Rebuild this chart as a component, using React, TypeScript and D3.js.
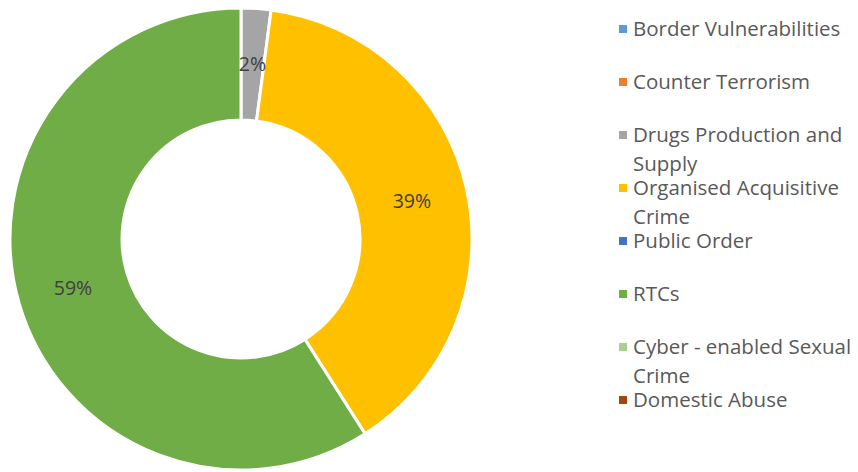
import { useEffect, useRef } from "react";
import * as d3 from "d3";

// Categories and values (share of incidents)
const categories = [
  "Border Vulnerabilities",
  "Counter Terrorism",
  "Drugs Production and Supply",
  "Organised Acquisitive Crime",
  "Public Order",
  "RTCs",
  "Cyber - enabled Sexual Crime",
  "Domestic Abuse",
];
const values = [0, 0, 3, 56, 0, 85, 0, 0];
const colors = [
  "#5b9bd5",
  "#ed7d31",
  "#a5a5a5",
  "#ffc000",
  "#4472c4",
  "#70ad47",
  "#a9d18e",
  "#9e480e",
];
// legend text lines as wrapped in the original
const legendLines = [
  ["Border Vulnerabilities"],
  ["Counter Terrorism"],
  ["Drugs Production and", "Supply"],
  ["Organised Acquisitive", "Crime"],
  ["Public Order"],
  ["RTCs"],
  ["Cyber - enabled Sexual", "Crime"],
  ["Domestic Abuse"],
];

export default function App() {
  const ref = useRef<SVGSVGElement>(null);

  useEffect(() => {
    if (!ref.current) return;
    const svg = d3.select(ref.current);
    svg.selectAll("*").remove();

    const cx = 241;
    const cy = 239;
    const outer = 231;
    const inner = 119;
    const font = "'Open Sans', sans-serif";

    const data = categories.map((c, i) => ({ name: c, value: values[i], color: colors[i] }));
    const total = d3.sum(values);

    const pie = d3
      .pie<any>()
      .value((d) => d.value)
      .sort(null);
    const arc = d3.arc<any>().innerRadius(inner).outerRadius(outer);

    const g = svg.append("g").attr("transform", `translate(${cx},${cy})`);
    const arcs = pie(data).filter((d) => d.data.value > 0);

    g.selectAll("path")
      .data(arcs)
      .enter()
      .append("path")
      .attr("d", arc)
      .attr("fill", (d) => d.data.color)
      .attr("stroke", "#fff")
      .attr("stroke-width", 3);

    g.selectAll("text")
      .data(arcs)
      .enter()
      .append("text")
      .attr("transform", (d) => `translate(${arc.centroid(d)})`)
      .attr("dy", "0.35em")
      .attr("text-anchor", "middle")
      .attr("font-family", font)
      .attr("font-size", 19.5)
      .attr("fill", "#404040")
      .text((d) => `${Math.round((d.data.value / total) * 100)}%`);

    // Legend
    const lx = 619;
    const ly = 29;
    const step = 53;
    const lg = svg.append("g");
    data.forEach((d, i) => {
      const y = ly + i * step;
      lg.append("rect")
        .attr("x", lx)
        .attr("y", y - 4)
        .attr("width", 8)
        .attr("height", 8)
        .attr("fill", d.color);
      const t = lg
        .append("text")
        .attr("x", lx + 14)
        .attr("y", y)
        .attr("font-family", font)
        .attr("font-size", 20.5)
        .attr("fill", "#595959");
      legendLines[i].forEach((line, j) => {
        t.append("tspan")
          .attr("x", lx + 14)
          .attr("dy", j === 0 ? "0.35em" : 29)
          .text(line);
      });
    });
  }, []);

  return (
    <svg
      ref={ref}
      width={858}
      height={472}
      style={{ position: "absolute", left: 0, top: 0, background: "#fff" }}
    />
  );
}
